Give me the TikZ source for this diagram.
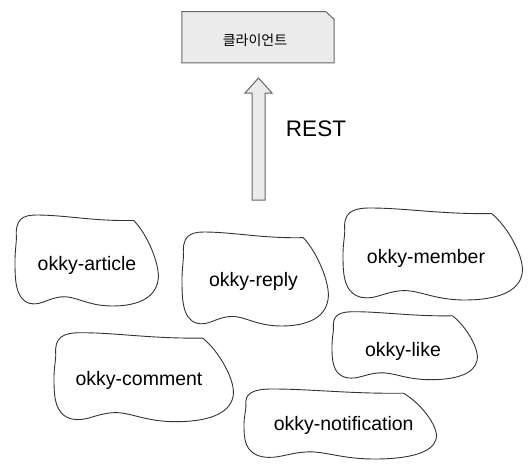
\documentclass[tikz,border=0pt]{standalone}
\usepackage{fontspec}
\setmainfont{Liberation Sans}
\newfontfamily\krfont{Noto Sans CJK KR}
\definecolor{blobline}{HTML}{333333}
\definecolor{boxline}{HTML}{666666}
\definecolor{boxfill}{HTML}{EBEBEB}
\tikzset{
  blobtext/.style={font=\fontsize{19.5}{22}\selectfont, inner sep=0pt},
  blobline/.style={draw=blobline, line width=0.9pt},
  clientbox/.style={rectangle, minimum width=152pt, minimum height=51pt, inner sep=0pt},
  boxstroke/.style={draw=boxline, fill=boxfill, line width=1pt, line join=miter}
}
\newcommand{\blobshape}[4]{%
  \begin{scope}[shift={(#1,#2)}, xscale=#3, yscale=#4]
    \draw[blobline] (0.01,0.25) .. controls (0.0,0.05) and (0.05,0.0) .. (0.15,0.0)
      .. controls (0.35,0.0) and (0.55,0.07) .. (0.83,0.06)
      .. controls (0.92,0.2) and (1.02,0.55) .. (1.0,0.72)
      .. controls (0.98,0.92) and (0.85,1.0) .. (0.68,1.0)
      .. controls (0.5,1.0) and (0.42,0.88) .. (0.32,0.9)
      .. controls (0.22,0.92) and (0.18,1.0) .. (0.1,0.97)
      .. controls (0.0,0.92) and (0.0,0.7) .. (0.0,0.5)
      .. controls (0.0,0.4) and (0.01,0.3) .. (0.01,0.25) -- cycle;
  \end{scope}}
\begin{document}
\begin{tikzpicture}[x=1pt, y=-1pt]
\useasboundingbox (0,0) rectangle (528,471);
% client
\node[clientbox] (client) at (258,37.2) {};
\draw[boxstroke] (client.north west) -- ([xshift=-8.5pt]client.north east)
  -- ([yshift=-8pt]client.north east) -- (client.south east) -- (client.south west) -- cycle;
\node[font=\krfont\fontsize{14}{16}\selectfont, inner sep=0pt] (clientlabel) at (255,40.5) {클라이언트};
% block arrow
\coordinate (abase) at (258.5,200);
\coordinate (atip) at (258.5,78);
\draw[boxstroke] ([xshift=-6.5pt]abase) -- ([xshift=-6.5pt]abase |- 0,93) -- (245,93) -- (atip)
  -- (272,93) -- ([xshift=6.5pt]abase |- 0,93) -- ([xshift=6.5pt]abase) -- cycle;
\node[font=\fontsize{22.5}{26}\selectfont, inner sep=0pt] (rest) at (316,128.5) {REST};
% blobs
\blobshape{15}{215}{143}{91}
\node[blobtext] (article) at (87,265) {okky-article};
\blobshape{182}{232}{146}{94}
\node[blobtext] (reply) at (253.5,281.7) {okky-reply};
\blobshape{343}{208}{179}{92}
\node[blobtext] (member) at (426,258) {okky-member};
\blobshape{332}{311.7}{145}{68}
\node[blobtext] (like) at (403,351.7) {okky-like};
\blobshape{54}{332.7}{179}{89}
\node[blobtext] (comment) at (139,380) {okky-comment};
\blobshape{244}{389}{192}{70}
\node[blobtext] (notification) at (343.7,425) {okky-notification};
\end{tikzpicture}
\end{document}
